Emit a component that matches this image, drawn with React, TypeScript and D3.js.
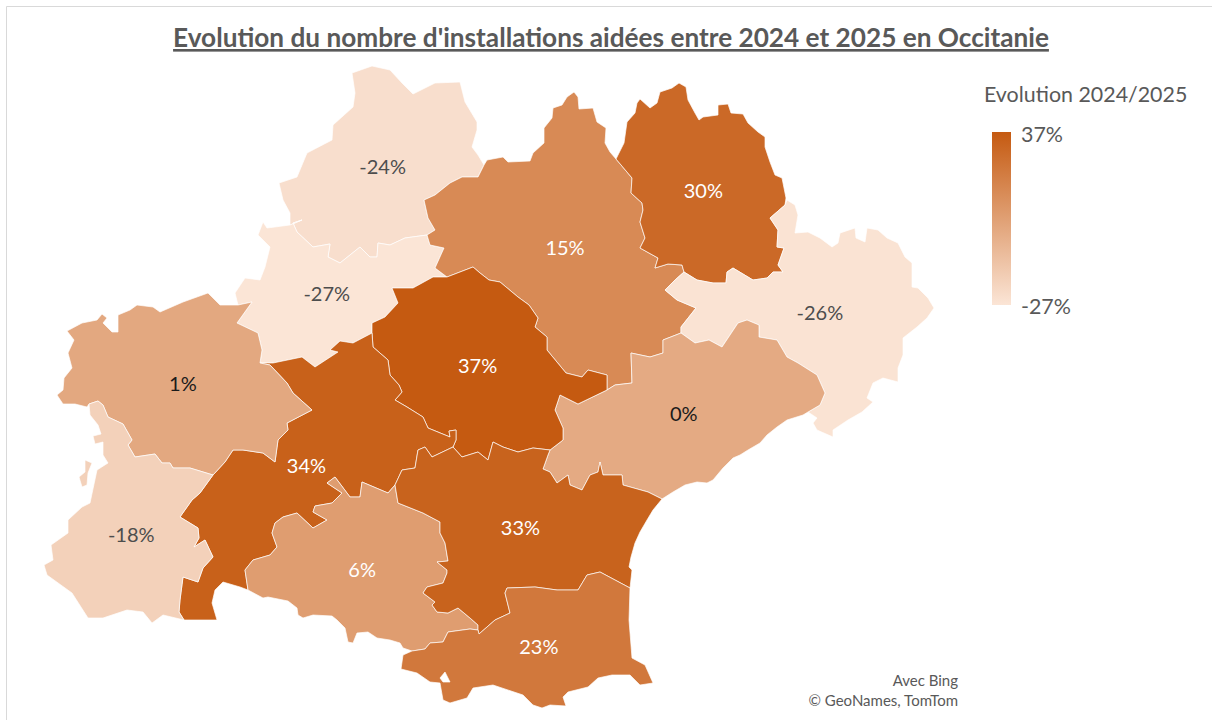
import React, { useMemo } from "react";
import * as d3 from "d3";

const title = "Evolution du nombre d'installations aidées entre 2024 et 2025 en Occitanie";
const legendTitle = "Evolution 2024/2025";
const attribution = ["Avec Bing", "© GeoNames, TomTom"];

// Departments and their 2024/2025 change in %
const departments = ["Lot", "Tarn-et-Garonne", "Aveyron", "Lozère", "Gard", "Hérault", "Tarn", "Haute-Garonne", "Gers", "Hautes-Pyrénées", "Ariège", "Aude", "Pyrénées-Orientales"];
const evolution = [-24, -27, 15, 30, -26, 0, 37, 34, 1, -18, 6, 33, 23];
const colorDomain = [-27, 37];
const colorRange = ["#fbe5d6", "#c55a11"];

const arcs: Record<string, string> = {
  lotOuter: "290,225 290,213 283,200 279,183 297,177 307,153 332,140 333,125 353,107 355,93 352,73 372,66 390,70 402,83 413,94 435,83 460,82 465,102 477,122 477,130 472,147 478,155 484,165",
  lotAveyron: "484,165 478,177 462,177 450,183 435,195 424,200 428,218 435,230 427,235",
  lotTg: "427,235 405,238 390,245 378,243 377,257 370,257 360,247 340,263 328,257 330,244 313,247 297,232 293,223 302,220 290,225",
  tgOuter: "290,225 267,228 263,222 258,235 270,247 265,267 260,280 245,278 235,293 238,305",
  tgGers: "238,305 252,302 237,323 258,333 262,350 260,363",
  tgHg: "260,363 273,363 302,357 315,367 338,352 330,350 340,341 353,343 372,333",
  tgTarn: "372,333 372,323 385,317 398,303 392,288 413,288 433,277 447,277",
  tgAveyron: "447,277 435,268 444,248 430,245 427,235",
  avOuter: "484,165 487,160 503,157 508,162 530,161 533,153 544,143 544,128 552,118 553,108 562,105 567,97 574,92 578,97 579,109 593,108 597,122 606,128 605,143 610,152 616,159",
  avLoz: "616,159 632,178 631,193 642,203 643,210 640,222 645,238 640,248 658,258 655,268 668,264 682,265 684,272",
  avGard: "684,272 675,280 665,290 677,300 696,308 681,327 681,333",
  avHer: "681,333 663,340 663,353 650,357 631,353 632,383 615,385 607,390",
  tarnAv: "447,277 473,267 480,273 489,280 500,282 518,297 529,305 538,318 535,327 547,337 547,350 566,373 582,377 588,370 607,375 607,390",
  tarnHer: "550,450 563,440 563,428 555,410 560,395 578,404 607,390",
  tarnAude: "550,450 533,448 518,452 503,447 493,442 488,460 478,452 462,457 453,447",
  tarnHg: "372,333 373,347 388,360 390,375 399,385 402,392 395,400 407,407 423,417 428,428 450,437 449,431 456,430 456,440 453,447",
  lozOuter: "616,159 624,143 627,122 635,113 637,103 640,99 650,108 657,103 660,92 672,88 679,83 686,87 688,100 695,113 699,120 703,117 718,115 718,105 728,104 731,113 743,114 748,123 758,132 765,137 765,147 770,162 775,175 782,178 786,198 785,205",
  lozGard: "785,205 770,218 778,230 777,247 784,248 778,265 783,272 773,272 767,278 753,280 733,268 727,272 726,283 713,283 697,280 684,272",
  gardOuter: "785,205 787,200 795,205 798,215 795,233 808,232 820,238 832,247 838,243 840,233 855,228 856,238 865,242 867,228 878,230 887,238 898,243 905,257 912,263 912,287 918,288 928,298 934,308 927,318 917,327 903,338 903,355 898,368 898,382 883,378 873,383 867,398 873,402 862,412 848,420 833,430 833,437 817,430 813,423 817,418 808,412",
  gardHer: "808,412 820,405 825,393 817,375 798,363 787,357 777,340 759,337 759,325 747,320 738,323 722,347 709,340 695,343 681,333",
  herCoast: "808,412 803,415 787,420 777,427 767,435 760,443 748,450 740,455 733,458 723,468 713,480 707,483 697,482 685,485 673,492 662,499",
  herAude: "662,499 648,492 623,485 622,475 603,475 600,462 598,472 590,475 582,490 570,485 568,475 557,483 550,472 543,469 548,455 550,450",
  hgAude: "453,447 432,457 425,447 418,450 415,468 402,470 395,485",
  hgAriege: "395,485 388,493 362,482 360,497 350,497 335,477 327,483 342,493 332,503 315,506 313,512 327,520 313,528 297,513 283,517 275,523 272,533 277,547 270,555 253,560 245,570 248,590",
  hgOuter: "248,590 240,587 223,582 215,590 212,603 217,620 184,620",
  hgHp: "213,475 200,493 192,500 180,517 198,528 199,538 194,547 205,540 213,557 203,568 198,582 183,577 180,600 179,612 184,620",
  gersHg: "260,363 270,365 287,383 293,393 312,410 287,423 288,430 278,440 275,462 263,453 243,450 233,450 225,462 213,475",
  gersOuter: "238,305 220,305 208,293 183,302 160,312 153,307 137,305 130,310 118,315 118,332 112,332 103,323 107,318 102,314 97,320 82,323 67,331 74,340 68,353 72,368 64,378 63,390 57,395 63,404 75,404 87,407 89,404",
  gersHp: "89,404 98,401 103,405 108,417 123,424 132,440 128,445 135,457 155,454 162,463 170,463 173,468 190,468 213,475",
  hpOuter: "184,620 163,615 152,623 143,612 127,610 103,618 88,618 72,593 47,575 44,565 53,560 51,545 68,533 68,520 82,507 90,503 97,470 108,463 103,455 103,442 95,444 93,436 101,434 98,425 90,415 89,404",
  ariegeAude: "395,485 398,503 423,513 440,522 440,533 445,543 448,561 437,562 447,570 447,573 443,583 427,587 423,593 435,602 432,605 437,612 448,613 458,608 470,618 478,625 478,630",
  ariegeOuter: "412,651 403,648 400,643 390,640 377,638 368,632 357,633 353,643 348,642 345,628 337,620 332,616 313,615 303,618 298,615 297,608 288,601 268,597 263,598 248,590",
  poAriege: "412,651 425,649 430,643 443,642 448,632 470,629 478,630",
  audeCoast: "662,499 653,510 647,520 640,532 635,543 631,557 629,567 632,570 630,588",
  audePo: "630,588 600,572 587,575 578,590 557,590 535,587 507,588 505,593 510,613 495,620 479,634 478,630",
  poOuter: "630,588 629,620 632,658 645,665 653,683 640,685 630,675 612,675 598,678 588,687 568,692 563,697 566,706 550,705 542,708 533,705 523,695 493,685 473,688 467,698 450,703 443,700 440,683 430,682 417,673 401,669 403,655 412,651",
};

// Which arcs close each department ("-" walks the arc backwards)
const rings = [
  ["lotOuter", "lotAveyron", "lotTg"],
  ["tgOuter", "tgGers", "tgHg", "tgTarn", "tgAveyron", "lotTg"],
  ["avOuter", "avLoz", "avGard", "avHer", "-tarnAv", "tgAveyron", "-lotAveyron"],
  ["lozOuter", "lozGard", "-avLoz"],
  ["gardOuter", "gardHer", "-avGard", "-lozGard"],
  ["-gardHer", "herCoast", "herAude", "tarnHer", "-avHer"],
  ["tarnAv", "-tarnHer", "tarnAude", "-tarnHg", "tgTarn"],
  ["tgHg", "tarnHg", "hgAude", "hgAriege", "hgOuter", "-hgHp", "-gersHg"],
  ["gersOuter", "gersHp", "-gersHg", "-tgGers"],
  ["hpOuter", "gersHp", "hgHp"],
  ["-hgAriege", "ariegeAude", "-poAriege", "ariegeOuter"],
  ["-tarnAude", "-herAude", "audeCoast", "audePo", "-ariegeAude", "-hgAude"],
  ["poAriege", "-audePo", "poOuter"],
];

// Small islands and holes that belong to a department
const extraRings: Record<string, string[]> = {
  "Hautes-Pyrénées": ["85,460 92,463 88,473 87,485 82,487 79,477 85,472 85,465"],
  "Pyrénées-Orientales": ["440,678 445,672 448,678 450,682 443,682"],
};

const parsePts = (s: string) => s.split(" ").map((p) => p.split(",").map(Number));

const buildRing = (names: string[]) =>
  names.flatMap((n) => {
    const pts = parsePts(arcs[n.replace("-", "")]);
    return n.startsWith("-") ? pts.reverse() : pts;
  });

const labelColor = (v: number) => (v >= 5 ? "#ffffff" : v >= 0 ? "#1a1a1a" : "#4d4d4d");

const font = "Lato, 'Noto Sans', sans-serif";

export default function App() {
  const color = d3.scaleLinear<string>().domain(colorDomain).range(colorRange).interpolate(d3.interpolateRgb);
  const path = d3.geoPath(d3.geoIdentity());

  const features = useMemo(
    () =>
      departments.map((name, i) => {
        const main = buildRing(rings[i]);
        const extras = (extraRings[name] || []).map(parsePts);
        return {
          name,
          value: evolution[i],
          d: [main, ...extras].map((r) => path({ type: "LineString", coordinates: r } as any) + "Z").join(""),
          center: path.centroid({ type: "Polygon", coordinates: [main] } as any),
        };
      }),
    []
  );

  return (
    <svg width={1212} height={720} style={{ position: "absolute", left: 0, top: 0, background: "#fff" }} fontFamily={font}>
      <defs>
        <linearGradient id="legendGradient" x1="0" y1="0" x2="0" y2="1">
          <stop offset="0%" stopColor={colorRange[1]} />
          <stop offset="100%" stopColor={colorRange[0]} />
        </linearGradient>
      </defs>

      {/* chart frame */}
      <path d="M6.5,720V6.5H1212" fill="none" stroke="#d9d9d9" />

      <text x={611} y={47} textAnchor="middle" fontSize={26.2} fontWeight={700} fill="#595959" textDecoration="underline">
        {title}
      </text>

      {features.map((f) => (
        <path key={f.name} d={f.d} fill={color(f.value)} fillRule="evenodd" stroke="#fff" strokeOpacity={0.75} strokeWidth={0.9} strokeLinejoin="round" />
      ))}

      {features.map((f) => (
        <text key={f.name} x={f.center[0]} y={f.center[1]} dy="0.42em" textAnchor="middle" fontSize={20} fill={labelColor(f.value)}>
          {f.value}%
        </text>
      ))}

      {/* legend */}
      <text x={984} y={102} fontSize={21.4} fill="#595959">{legendTitle}</text>
      <rect x={992} y={132} width={19} height={173} fill="url(#legendGradient)" />
      <text x={1021} y={142} fontSize={21.4} fill="#595959">{d3.max(evolution)}%</text>
      <text x={1021} y={314} fontSize={21.4} fill="#595959">{d3.min(evolution)}%</text>

      {attribution.map((line, i) => (
        <text key={line} x={958} y={686 + i * 20} textAnchor="end" fontSize={15} fill="#595959">
          {line}
        </text>
      ))}
    </svg>
  );
}
